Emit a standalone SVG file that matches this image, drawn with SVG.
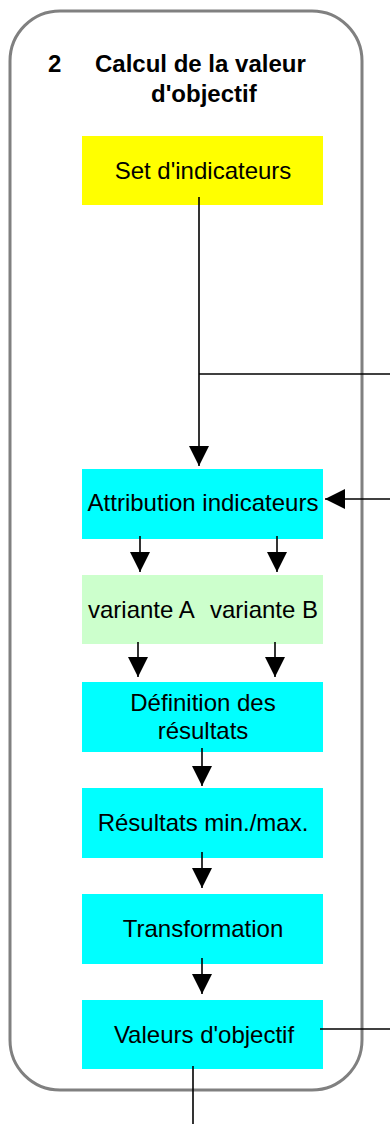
<svg xmlns="http://www.w3.org/2000/svg" width="390" height="1124" viewBox="0 0 390 1124">
  <style>
    text { font-family: "Liberation Sans", Arial, sans-serif; font-size: 24px; fill: #000; }
    .title { font-weight: bold; }
    .c { text-anchor: middle; }
    .cyan { fill: #00FFFF; }
    .yellow { fill: #FFFF00; }
    .green { fill: #CCFFCC; }
    .conn { stroke: #000; stroke-width: 1.6; fill: none; }
  </style>
  <defs>
    <marker id="arr" markerUnits="userSpaceOnUse" markerWidth="20" markerHeight="20" viewBox="0 0 20 20" refX="20" refY="10" orient="auto">
      <path d="M0,0 L20,10 L0,20 Z" fill="#000"/>
    </marker>
  </defs>
  <rect width="390" height="1124" fill="#fff"/>

  <g id="frame">
    <rect x="10" y="11" width="352" height="1079" rx="50" ry="50" fill="none" stroke="#808080" stroke-width="3"/>
    <text class="title" x="48" y="72">2</text>
    <text class="title" x="95" y="72">Calcul de la valeur</text>
    <text class="title" x="151" y="102">d'objectif</text>
  </g>

  <g id="set-indicateurs">
    <rect class="yellow" x="82" y="136" width="241" height="69"/>
    <text class="c" x="203" y="179">Set d'indicateurs</text>
  </g>

  <g id="attribution">
    <rect class="cyan" x="82" y="469" width="241" height="70"/>
    <text class="c" x="203" y="511">Attribution indicateurs</text>
  </g>

  <g id="variantes">
    <rect class="green" x="82" y="575" width="241" height="69"/>
    <text x="88" y="618">variante A</text>
    <text x="210" y="618">variante B</text>
  </g>

  <g id="definition">
    <rect class="cyan" x="82" y="682" width="241" height="70"/>
    <text class="c" x="203" y="711">Définition des</text>
    <text class="c" x="203" y="739">résultats</text>
  </g>

  <g id="resultats">
    <rect class="cyan" x="82" y="788" width="241" height="70"/>
    <text class="c" x="203" y="831">Résultats min./max.</text>
  </g>

  <g id="transformation">
    <rect class="cyan" x="82" y="894" width="241" height="70"/>
    <text class="c" x="203" y="937">Transformation</text>
  </g>

  <g id="valeurs">
    <rect class="cyan" x="82" y="1000" width="241" height="69"/>
    <text class="c" x="204" y="1043">Valeurs d'objectif</text>
  </g>

  <g id="connectors">
    <line class="conn" x1="199" y1="197" x2="199" y2="466" marker-end="url(#arr)"/>
    <line class="conn" x1="199" y1="374" x2="390" y2="374"/>
    <line class="conn" x1="390" y1="499" x2="325" y2="499" marker-end="url(#arr)"/>
    <line class="conn" x1="140" y1="536" x2="140" y2="572" marker-end="url(#arr)"/>
    <line class="conn" x1="277" y1="536" x2="277" y2="572" marker-end="url(#arr)"/>
    <line class="conn" x1="138" y1="642" x2="138" y2="677" marker-end="url(#arr)"/>
    <line class="conn" x1="275" y1="642" x2="275" y2="677" marker-end="url(#arr)"/>
    <line class="conn" x1="202" y1="748" x2="202" y2="786" marker-end="url(#arr)"/>
    <line class="conn" x1="202" y1="852" x2="202" y2="888" marker-end="url(#arr)"/>
    <line class="conn" x1="202" y1="958" x2="202" y2="994" marker-end="url(#arr)"/>
    <line class="conn" x1="320" y1="1029" x2="390" y2="1029"/>
    <line class="conn" x1="193" y1="1066" x2="193" y2="1124"/>
  </g>
</svg>
